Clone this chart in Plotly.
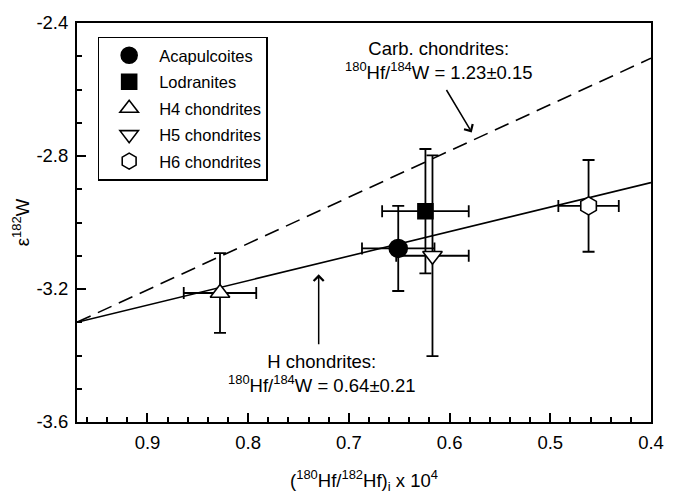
import plotly.graph_objects as go

# ---- data ----
names = ["Acapulcoites", "Lodranites", "H4 chondrites", "H5 chondrites", "H6 chondrites"]
x_vals = [0.651, 0.624, 0.828, 0.617, 0.462]
x_err = [0.036, 0.043, 0.036, 0.036, 0.030]
y_vals = [-3.078, -2.966, -3.212, -3.100, -2.950]
y_err = [0.128, 0.187, 0.120, 0.302, 0.138]
symbols = ["circle", "square", "triangle-up", "triangle-down", "hexagon"]
fills = ["black", "black", "white", "white", "white"]
sizes = [18, 15, 17, 17, 18]

h_line_x = [0.97, 0.40]
h_line_y = [-3.300, -2.880]
carb_line_x = [0.97, 0.40]
carb_line_y = [-3.300, -2.506]

x_ticks = [0.9, 0.8, 0.7, 0.6, 0.5, 0.4]
x_tick_labels = ["0.9", "0.8", "0.7", "0.6", "0.5", "0.4"]
y_ticks = [-3.6, -3.2, -2.8, -2.4]
y_tick_labels = ["-3.6", "-3.2", "-2.8", "-2.4"]

FONT = "Liberation Sans, Arial, sans-serif"

fig = go.Figure()

fig.add_trace(go.Scatter(x=carb_line_x, y=carb_line_y, mode="lines",
                         line=dict(color="black", width=1.6, dash="15px,8px"),
                         showlegend=False, hoverinfo="skip"))
fig.add_trace(go.Scatter(x=h_line_x, y=h_line_y, mode="lines",
                         line=dict(color="black", width=1.6),
                         showlegend=False, hoverinfo="skip"))

for i, n in enumerate(names):
    fig.add_trace(go.Scatter(
        x=[x_vals[i]], y=[y_vals[i]], mode="markers", name=n,
        legendgroup=n,
        marker=dict(symbol=symbols[i], size=sizes[i], color=fills[i],
                    line=dict(color="black", width=1.6)),
        error_x=dict(type="data", array=[x_err[i]], color="black", thickness=1.8, width=6),
        error_y=dict(type="data", array=[y_err[i]], color="black", thickness=1.8, width=6),
    ))

annotations = [
    dict(x=0.611, y=-2.512, xref="x", yref="y", showarrow=False,
         text="Carb. chondrites:<br><sup>180</sup>Hf/<sup>184</sup>W = 1.23±0.15",
         font=dict(size=18.5, color="black", family=FONT), align="center"),
    dict(x=0.578, y=-2.729, ax=0.604, ay=-2.597, xref="x", yref="y", axref="x", ayref="y",
         text="", showarrow=True, arrowhead=4, arrowsize=1.3, arrowwidth=1.5, arrowcolor="black"),
    dict(x=0.727, y=-3.453, xref="x", yref="y", showarrow=False,
         text="H chondrites:<br><sup>180</sup>Hf/<sup>184</sup>W = 0.64±0.21",
         font=dict(size=18.5, color="black", family=FONT), align="center"),
    dict(x=0.730, y=-3.156, ax=0.730, ay=-3.371, xref="x", yref="y", axref="x", ayref="y",
         text="", showarrow=True, arrowhead=4, arrowsize=1.3, arrowwidth=1.5, arrowcolor="black"),
]

fig.update_layout(
    width=676, height=500,
    margin=dict(l=77, r=14, t=15, b=76),
    paper_bgcolor="white", plot_bgcolor="white",
    font=dict(family=FONT, color="black", size=18.5),
    annotations=annotations,
    legend=dict(x=0.036, y=0.966, xanchor="left", yanchor="top",
                bgcolor="white", bordercolor="black", borderwidth=1.5,
                font=dict(size=16.5, family=FONT, color="black"),
                traceorder="grouped", tracegroupgap=2, itemwidth=50),
    xaxis=dict(range=[0.97, 0.40], tickvals=x_ticks, ticktext=x_tick_labels,
               ticks="inside", ticklen=9, tickwidth=1.8, tickcolor="black",
               minor=dict(dtick=0.02, ticks="inside", ticklen=5, tickwidth=1.5, tickcolor="black"),
               showline=True, linecolor="black", linewidth=2, mirror=True,
               showgrid=False, zeroline=False, ticklabelstandoff=3,
               title=dict(text="(<sup>180</sup>Hf/<sup>182</sup>Hf)<sub>i</sub> x 10<sup>4</sup>",
                          font=dict(size=18.5), standoff=22)),
    yaxis=dict(range=[-3.6, -2.4], tickvals=y_ticks, ticktext=y_tick_labels,
               ticks="inside", ticklen=9, tickwidth=1.8, tickcolor="black",
               minor=dict(dtick=0.1, ticks="inside", ticklen=5, tickwidth=1.5, tickcolor="black"),
               showline=True, linecolor="black", linewidth=2, mirror=True,
               showgrid=False, zeroline=False, ticklabelstandoff=3,
               title=dict(text="ε<sup>182</sup>W", font=dict(size=18.5), standoff=2)),
)

fig.write_html("out.html")
